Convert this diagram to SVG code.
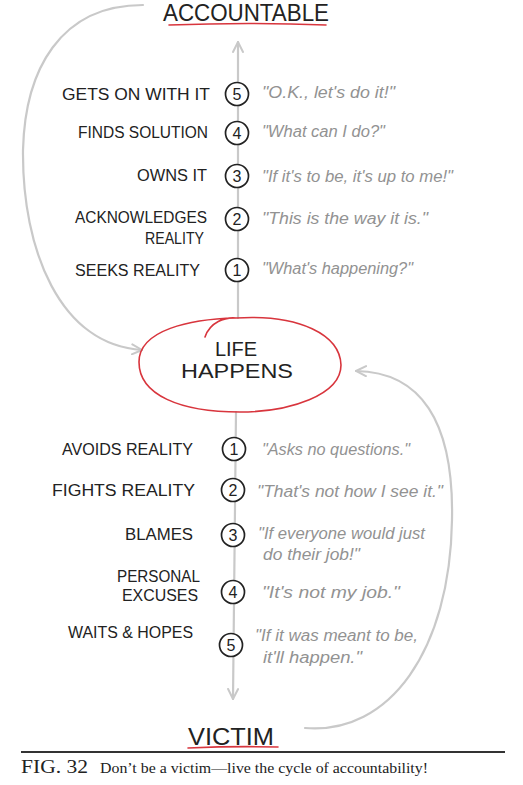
<svg xmlns="http://www.w3.org/2000/svg" width="523" height="785" viewBox="0 0 523 785">
<style>
.lbl{font-family:"Liberation Sans",Arial,sans-serif;font-size:16px;fill:#222;text-anchor:end}
.q{font-family:"Liberation Sans",Arial,sans-serif;font-style:italic;font-size:16px;fill:#929292}
.title{font-family:"Liberation Sans",Arial,sans-serif;font-size:24px;fill:#222;text-anchor:middle}
.num{font-family:"Liberation Sans",Arial,sans-serif;font-size:16px;fill:#222;text-anchor:middle}
.ring{fill:#fff;stroke:#222;stroke-width:1.7}
.conn{fill:none;stroke:#c9c9c9;stroke-width:2.2;stroke-linecap:round}
.red{fill:none;stroke:#d8353d;stroke-width:1.6;stroke-linecap:round}
</style>
<defs>
<marker id="ah" viewBox="0 0 12 12" refX="11" refY="6" markerWidth="12" markerHeight="12" markerUnits="userSpaceOnUse" orient="auto">
<path d="M1,1 L11,6 L1,11" fill="none" stroke="#c9c9c9" stroke-width="2" stroke-linecap="round"/>
</marker>
</defs>
<rect width="523" height="785" fill="#fff"/>
<g id="connectors">
<path class="conn" d="M238,318 L238,42" marker-end="url(#ah)"/>
<path class="conn" d="M236,412 L233,699" marker-end="url(#ah)"/>
<path class="conn" d="M143,5 C60,5 25,70 23,150 C22,250 60,345 142,350" marker-end="url(#ah)"/>
<path class="conn" d="M305,728 C390,735 450,650 452,520 C454,420 420,372 356,371" marker-end="url(#ah)"/>
</g>
<g id="accountable">
<text class="title" x="246" y="21" textLength="166" lengthAdjust="spacingAndGlyphs">ACCOUNTABLE</text>
<path class="red" d="M169,25 Q250,22 326,25"/>
</g>
<g id="life-happens">
<path class="red" d="M205,337 C210,322 225,317 236,318 C300,314 340,335 341,365 C341,395 290,412 240,412 C180,412 139,395 139,362 C139,330 190,319 236,318"/>
<text class="title" x="236" y="356" style="font-size:20px">LIFE</text>
<text class="title" x="237" y="378" style="font-size:20px" textLength="112" lengthAdjust="spacingAndGlyphs">HAPPENS</text>
</g>
<g id="victim">
<text class="title" x="231" y="745" textLength="86" lengthAdjust="spacingAndGlyphs">VICTIM</text>
<path class="red" d="M188,748 Q235,746 278,747"/>
</g>
<g id="acc-5"><text class="lbl" x="210" y="100" textLength="148" lengthAdjust="spacingAndGlyphs">GETS ON WITH IT</text><circle class="ring" cx="237" cy="94" r="11.5"/><text class="num" x="237" y="100">5</text><text class="q" x="262" y="98" textLength="133" lengthAdjust="spacingAndGlyphs">"O.K., let's do it!"</text></g>
<g id="acc-4"><text class="lbl" x="208" y="138" textLength="130" lengthAdjust="spacingAndGlyphs">FINDS SOLUTION</text><circle class="ring" cx="237" cy="133" r="11.5"/><text class="num" x="237" y="139">4</text><text class="q" x="262" y="137" textLength="123" lengthAdjust="spacingAndGlyphs">"What can I do?"</text></g>
<g id="acc-3"><text class="lbl" x="207" y="181" textLength="70" lengthAdjust="spacingAndGlyphs">OWNS IT</text><circle class="ring" cx="237" cy="176" r="11.5"/><text class="num" x="237" y="182">3</text><text class="q" x="262" y="182" textLength="191" lengthAdjust="spacingAndGlyphs">"If it's to be, it's up to me!"</text></g>
<g id="acc-2"><text class="lbl" x="207" y="223" textLength="132" lengthAdjust="spacingAndGlyphs">ACKNOWLEDGES</text><text class="lbl" x="204" y="244" textLength="59" lengthAdjust="spacingAndGlyphs">REALITY</text><circle class="ring" cx="237" cy="219" r="11.5"/><text class="num" x="237" y="225">2</text><text class="q" x="262" y="224" textLength="166" lengthAdjust="spacingAndGlyphs">"This is the way it is."</text></g>
<g id="acc-1"><text class="lbl" x="200" y="276" textLength="125" lengthAdjust="spacingAndGlyphs">SEEKS REALITY</text><circle class="ring" cx="237" cy="270" r="11.5"/><text class="num" x="237" y="276">1</text><text class="q" x="262" y="274" textLength="151" lengthAdjust="spacingAndGlyphs">"What's happening?"</text></g>
<g id="vic-1"><text class="lbl" x="193" y="455" textLength="131" lengthAdjust="spacingAndGlyphs">AVOIDS REALITY</text><circle class="ring" cx="234" cy="449" r="11.5"/><text class="num" x="234" y="455">1</text><text class="q" x="262" y="455" textLength="148" lengthAdjust="spacingAndGlyphs">"Asks no questions."</text></g>
<g id="vic-2"><text class="lbl" x="195" y="496" textLength="143" lengthAdjust="spacingAndGlyphs">FIGHTS REALITY</text><circle class="ring" cx="233" cy="490" r="11.5"/><text class="num" x="233" y="496">2</text><text class="q" x="257" y="497" textLength="186" lengthAdjust="spacingAndGlyphs">"That's not how I see it."</text></g>
<g id="vic-3"><text class="lbl" x="193" y="540" textLength="68" lengthAdjust="spacingAndGlyphs">BLAMES</text><circle class="ring" cx="233" cy="535" r="11.5"/><text class="num" x="233" y="541">3</text><text class="q" x="258" y="539" textLength="167" lengthAdjust="spacingAndGlyphs">"If everyone would just</text><text class="q" x="263" y="560" textLength="97" lengthAdjust="spacingAndGlyphs">do their job!"</text></g>
<g id="vic-4"><text class="lbl" x="200" y="582" textLength="83" lengthAdjust="spacingAndGlyphs">PERSONAL</text><text class="lbl" x="198" y="601" textLength="76" lengthAdjust="spacingAndGlyphs">EXCUSES</text><circle class="ring" cx="233" cy="592" r="11.5"/><text class="num" x="233" y="598">4</text><text class="q" x="262" y="598" textLength="138" lengthAdjust="spacingAndGlyphs">"It's not my job."</text></g>
<g id="vic-5"><text class="lbl" x="193" y="638" textLength="125" lengthAdjust="spacingAndGlyphs">WAITS &amp; HOPES</text><circle class="ring" cx="231" cy="645" r="11.5"/><text class="num" x="231" y="651">5</text><text class="q" x="255" y="641" textLength="163" lengthAdjust="spacingAndGlyphs">"If it was meant to be,</text><text class="q" x="263" y="663" textLength="99" lengthAdjust="spacingAndGlyphs">it'll happen."</text></g>
<g id="caption">
<line x1="21" y1="752" x2="505" y2="752" stroke="#333" stroke-width="2"/>
<text x="21" y="773" font-family="Liberation Serif,serif" font-size="19" fill="#222" textLength="67" lengthAdjust="spacingAndGlyphs">FIG. 32</text>
<text x="100" y="773" font-family="Liberation Serif,serif" font-size="15" fill="#222" textLength="328" lengthAdjust="spacingAndGlyphs">Don’t be a victim—live the cycle of accountability!</text>
</g>
</svg>
